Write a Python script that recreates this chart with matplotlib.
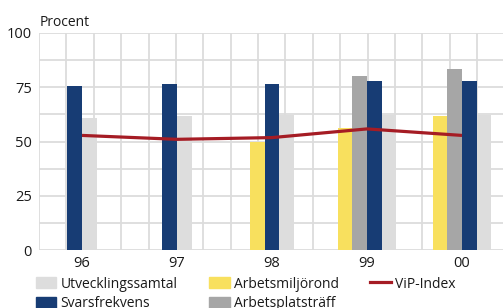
import numpy as np
import matplotlib
matplotlib.use("Agg")
from matplotlib import pyplot as plt
from matplotlib.lines import Line2D
from matplotlib.patches import Patch

plt.rcParams['font.family'] = ['Open Sans', 'DejaVu Sans']

# data
years = ["96", "97", "98", "99", "00"]
arbetsmiljorond = [None, None, 50.0, 56.0, 61.8]
arbetsplatstraff = [None, None, None, 80.0, 83.2]
svarsfrekvens = [75.5, 76.3, 76.3, 78.1, 78.1]
utvecklingssamtal = [60.6, 61.7, 62.3, 62.3, 62.3]
vip_index = [52.8, 51.0, 51.8, 55.8, 52.8]

series = [
    ("Arbetsmiljörond", arbetsmiljorond, "#f8e05e"),
    ("Arbetsplatsträff", arbetsplatstraff, "#a6a6a6"),
    ("Svarsfrekvens", svarsfrekvens, "#173c74"),
    ("Utvecklingssamtal", utvecklingssamtal, "#dddddd"),
]

fig = plt.figure(figsize=(5.03, 3.08), dpi=100)
ax = fig.add_axes([39/503, 58/308, 464/503, 217/308])

grid_col = "#dcdcdc"
w = 0.155
x = np.arange(len(years))

# bars: only the present ones, packed and centred on the year
for i in range(len(years)):
    present = [(c, s[i]) for _, s, c in series if s[i] is not None]
    n = len(present)
    for j, (c, v) in enumerate(present):
        ax.bar(i + (j - (n - 1) / 2) * w, v, width=w, color=c, zorder=3, linewidth=0)

ax.plot(x, vip_index, color="#a51c24", lw=2.3, zorder=4, solid_capstyle="butt")

ax.set_xlim(-43/95, 421/95)
ax.set_ylim(0, 100)

# grid
for gx in np.arange(-43/95, 421/95 + 0.01, 27.375/95):
    ax.axvline(gx, color=grid_col, lw=1.3, zorder=1)
for gy in np.arange(0, 100.1, 12.5):
    ax.axhline(gy, color=grid_col, lw=1.3, zorder=1)

ax.set_yticks([0, 25, 50, 75, 100])
ax.set_xticks(x)
ax.set_xticklabels(years)
ax.tick_params(length=0, labelsize=10.5, colors="#1a1a1a", pad=4)
ax.tick_params(axis="y", pad=5)
for s in ax.spines.values():
    s.set_visible(False)

fig.text(40/503, 1 - 23/308, "Procent", fontsize=10, color="#1a1a1a", va="center", ha="left")

handles = [
    Patch(color="#dddddd", label="Utvecklingssamtal"),
    Patch(color="#173c74", label="Svarsfrekvens"),
    Patch(color="#f8e05e", label="Arbetsmiljörond"),
    Patch(color="#a6a6a6", label="Arbetsplatsträff"),
    Line2D([], [], color="#a51c24", lw=2.3, label="ViP-Index"),
]
fig.legend(handles=handles, ncol=3, loc="upper left", bbox_to_anchor=(30/503, 1 - 271/308),
           frameon=False, fontsize=10, handlelength=1.5, handleheight=0.85,
           handletextpad=0.3, columnspacing=2.25, labelspacing=0.35, borderaxespad=0,
           labelcolor="#1a1a1a")

fig.savefig("out.png", dpi=100)
